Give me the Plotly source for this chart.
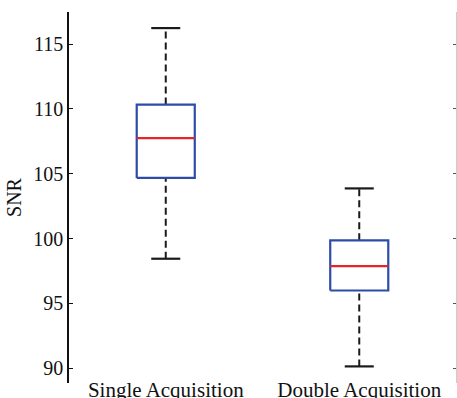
import plotly.graph_objects as go

categories = ["Single Acquisition", "Double Acquisition"]
positions = [1, 2]
lower_whisker = [98.45, 90.15]
q1 = [104.68, 96.0]
median = [107.75, 97.88]
q3 = [110.33, 99.87]
upper_whisker = [116.23, 103.87]
y_ticks = [90, 95, 100, 105, 110, 115]

box_half = 0.15
cap_half = 0.075
BLUE = "#2d4ca8"
RED = "#e8242b"
BLACK = "#1a1a1a"

fig = go.Figure()
for i, x in enumerate(positions):
    fig.add_trace(go.Scatter(x=[x, x], y=[q3[i], upper_whisker[i]], mode="lines",
                             line=dict(color=BLACK, width=2, dash="7px,4px"), showlegend=False, hoverinfo="skip"))
    fig.add_trace(go.Scatter(x=[x, x], y=[lower_whisker[i], q1[i]], mode="lines",
                             line=dict(color=BLACK, width=2, dash="7px,4px"), showlegend=False, hoverinfo="skip"))
    for v in (upper_whisker[i], lower_whisker[i]):
        fig.add_trace(go.Scatter(x=[x - cap_half, x + cap_half], y=[v, v], mode="lines",
                                 line=dict(color=BLACK, width=2.2), showlegend=False, hoverinfo="skip"))
    fig.add_trace(go.Scatter(x=[x - box_half, x + box_half, x + box_half, x - box_half, x - box_half],
                             y=[q1[i], q1[i], q3[i], q3[i], q1[i]], mode="lines",
                             line=dict(color=BLUE, width=2.2), showlegend=False, hoverinfo="skip"))
    fig.add_trace(go.Scatter(x=[x - box_half, x + box_half], y=[median[i], median[i]], mode="lines",
                             line=dict(color=RED, width=2.2), showlegend=False, hoverinfo="skip"))

fig.add_trace(go.Scatter(x=[1], y=[100], yaxis="y2", mode="markers", marker=dict(opacity=0),
                         showlegend=False, hoverinfo="skip"))

yr = [88.87, 117.47]
fam = "'Liberation Serif', 'Times New Roman', serif"
yfont = dict(family=fam, size=20, color="#111111")
xfont = dict(family=fam, size=21, color="#111111")
fig.update_layout(
    template="none",
    width=457, height=398,
    margin=dict(l=69, r=1, t=12, b=15, autoexpand=False),
    paper_bgcolor="white", plot_bgcolor="white",
    font=yfont,
    xaxis=dict(range=[0.5, 2.5], tickvals=positions, ticktext=categories, showgrid=False,
               zeroline=False, showline=False, ticks="", automargin=False, tickfont=xfont,
               ticklabelstandoff=-8),
    yaxis=dict(range=yr, tickvals=y_ticks, showgrid=False, zeroline=False, showline=True,
               linecolor="#111111", linewidth=1.5, ticks="inside", ticklen=4, tickwidth=1,
               tickcolor="#111111", automargin=False, tickfont=yfont,
               title=dict(text="SNR", font=yfont, standoff=6)),
    yaxis2=dict(range=yr, overlaying="y", side="right", tickvals=y_ticks, showticklabels=False,
                showgrid=False, zeroline=False, showline=True, linecolor="#cccccc", linewidth=1,
                ticks="inside", ticklen=3, tickcolor="#555555", automargin=False),
)
fig.write_html("out.html")
